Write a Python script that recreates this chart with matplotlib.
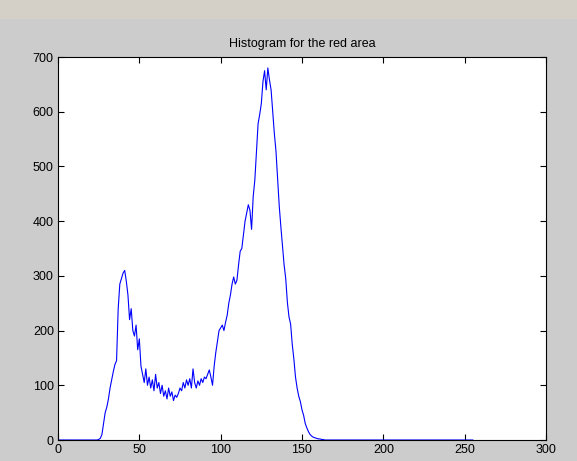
import matplotlib
matplotlib.use("Agg")
import matplotlib.pyplot as plt
from matplotlib.patches import Rectangle

# histogram counts of the red channel, bins 0..255
lead_zeros = [0] * 25
mid_counts = [
    1, 3, 10, 30, 50, 60, 75, 95, 110, 125,            # 25-34
    138, 145, 240, 285, 295, 305, 310, 290, 265, 220,  # 35-44
    240, 200, 190, 210, 165, 185, 135, 120, 105, 130,  # 45-54
    100, 115, 95, 110, 90, 120, 95, 105, 85, 100,      # 55-64
    80, 90, 75, 95, 80, 88, 72, 82, 78, 85,            # 65-74
    95, 90, 105, 95, 110, 100, 112, 95, 130, 105,      # 75-84
    95, 108, 100, 112, 105, 115, 112, 120, 128, 115,   # 85-94
    100, 135, 160, 180, 200, 205, 210, 200, 215, 228,  # 95-104
    250, 265, 285, 298, 285, 292, 320, 345, 350, 375,  # 105-114
    400, 415, 430, 420, 385, 445, 475, 525, 578, 595,  # 115-124
    615, 655, 675, 640, 680, 658, 640, 600, 560, 528,  # 125-134
    478, 428, 390, 355, 320, 295, 252, 225, 212, 175,  # 135-144
    148, 115, 95, 80, 70, 55, 45, 30, 22, 15,          # 145-154
    10, 7, 5, 4, 3, 2, 2, 1, 1,                        # 155-163
]
tail_zeros = [0] * (256 - 25 - len(mid_counts))
counts = lead_zeros + mid_counts + tail_zeros
bins = list(range(256))

x_ticks = [0, 50, 100, 150, 200, 250, 300]
y_ticks = [0, 100, 200, 300, 400, 500, 600, 700]

plt.rcParams['font.family'] = ['Liberation Sans', 'DejaVu Sans']

fig = plt.figure(figsize=(5.77, 4.61), dpi=100, facecolor="#cccccc")
# window toolbar strip
fig.patches.append(Rectangle((0, 1 - 19 / 461), 1, 19 / 461, transform=fig.transFigure,
                             facecolor="#d4d0c8", edgecolor="none", zorder=0))

ax = fig.add_axes([58 / 577, 21 / 461, 488 / 577, 383 / 461])
ax.plot(bins, counts, color="#0000ff", linewidth=0.8)
ax.set_xlim(0, 300)
ax.set_ylim(0, 700)
ax.set_xticks(x_ticks)
ax.set_yticks(y_ticks)
ax.tick_params(direction="in", top=True, right=True, length=4, width=0.8,
               labelsize=9, pad=3)
for s in ax.spines.values():
    s.set_linewidth(0.8)
ax.set_title("Histogram for the red area", fontsize=9, pad=7)

fig.savefig("out.png", dpi=100, facecolor=fig.get_facecolor())
